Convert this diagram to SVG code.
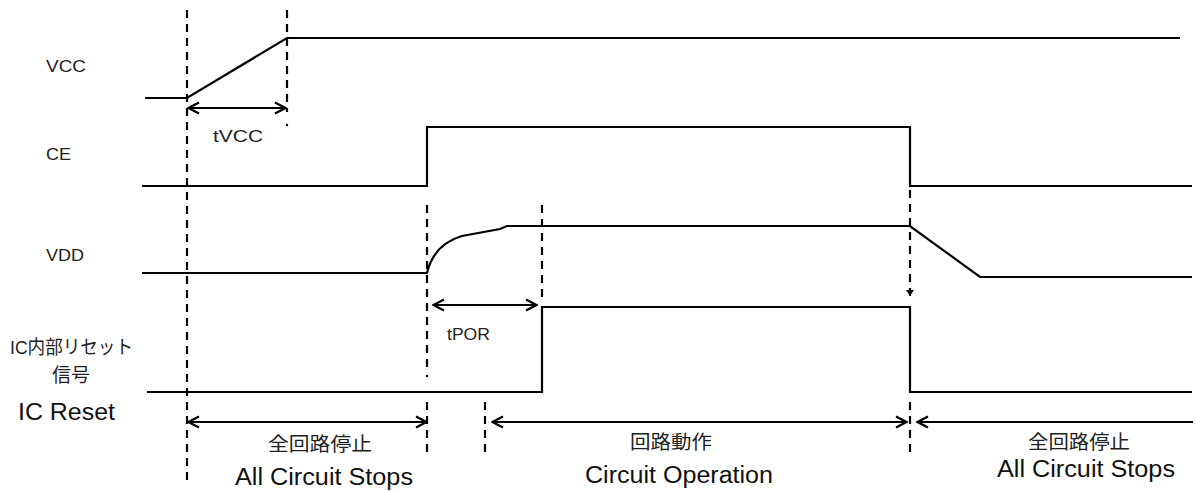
<svg xmlns="http://www.w3.org/2000/svg" width="1195" height="491" viewBox="0 0 1195 491">
<defs>
<marker id="ah" viewBox="0 0 14 14" refX="13" refY="7" markerWidth="14" markerHeight="14" markerUnits="userSpaceOnUse" orient="auto-start-reverse">
<path d="M2,1.5 L12.5,7 L2,12.5" fill="none" stroke="#000" stroke-width="2.2"/>
</marker>
<marker id="ad" viewBox="0 0 10 10" refX="5" refY="9" markerWidth="10" markerHeight="10" markerUnits="userSpaceOnUse" orient="0">
<path d="M1,3 L5,9 L9,3 Z" fill="#000"/>
</marker>
</defs>
<style>
.sig{fill:none;stroke:#000;stroke-width:2.2;stroke-linejoin:miter}
.dash{fill:none;stroke:#000;stroke-width:2.2;stroke-dasharray:8,6}
.dim{fill:none;stroke:#000;stroke-width:2;marker-start:url(#ah);marker-end:url(#ah)}
.dimL{fill:none;stroke:#000;stroke-width:2;marker-start:url(#ah)}
text{}
.lab{font-family:"Liberation Sans",Arial,sans-serif;font-size:17px;fill:#222}
.jp{font-family:"Liberation Sans","Noto Sans CJK JP",sans-serif;font-size:19px;fill:#222}
.en{font-family:"Liberation Sans",Arial,sans-serif;font-size:23px;fill:#111}
</style>
<g id="labels">
<text class="lab" x="46" y="72" textLength="40" lengthAdjust="spacingAndGlyphs">VCC</text>
<text class="lab" x="46" y="160" textLength="25" lengthAdjust="spacingAndGlyphs">CE</text>
<text class="lab" x="46" y="261" textLength="38" lengthAdjust="spacingAndGlyphs">VDD</text>
<text class="jp" x="10" y="354" textLength="123" lengthAdjust="spacingAndGlyphs">IC内部リセット</text>
<text class="jp" x="52" y="382" textLength="38" lengthAdjust="spacingAndGlyphs">信号</text>
<text class="en" x="18" y="420" textLength="97" lengthAdjust="spacingAndGlyphs">IC Reset</text>
</g>
<g id="vcc">
<path class="sig" d="M145,98 L187,98 L287,38 L1180,38"/>
</g>
<g id="ce">
<path class="sig" d="M142,186 L427,186 L427,127 L910,127 L910,186 L1192,186"/>
</g>
<g id="vdd">
<path class="sig" d="M142,273 L427,273 Q434,244 462,236 L500,229 L507,226 L910,226 L980,277 L1192,277"/>
</g>
<g id="reset">
<path class="sig" d="M147,392 L542,392 L542,307 L910,307 L910,392 L1192,392"/>
</g>
<g id="connectors">
<line class="dash" x1="187" y1="10" x2="187" y2="484"/>
<line class="dash" x1="287" y1="10" x2="287" y2="112"/>
<circle cx="287" cy="125" r="1.2" fill="#000"/>
<line class="dash" x1="427" y1="205" x2="427" y2="372"/>
<circle cx="427" cy="376" r="1.2" fill="#000"/>
<line class="dash" x1="427" y1="402" x2="427" y2="452"/>
<line class="dash" x1="542" y1="205" x2="542" y2="300"/>
<line class="dash" x1="485" y1="402" x2="485" y2="452"/>
<line class="dash" x1="910" y1="190" x2="910" y2="296" marker-end="url(#ad)"/>
<line class="dash" x1="910" y1="402" x2="910" y2="452"/>
<line class="dim" x1="188" y1="108" x2="286" y2="108"/>
<line class="dim" x1="433" y1="305" x2="537" y2="305"/>
<line class="dim" x1="188" y1="422" x2="427" y2="422"/>
<line class="dim" x1="492" y1="422" x2="907" y2="422"/>
<line class="dimL" x1="917" y1="422" x2="1193" y2="422"/>
</g>
<g id="annotations">
<text class="lab" x="213" y="142" textLength="50" lengthAdjust="spacingAndGlyphs" font-size="18">tVCC</text>
<text class="lab" x="447" y="340" textLength="43" lengthAdjust="spacingAndGlyphs">tPOR</text>
<text class="jp" x="268" y="451" textLength="104" lengthAdjust="spacingAndGlyphs">全回路停止</text>
<text class="en" x="235" y="485" textLength="178" lengthAdjust="spacingAndGlyphs">All Circuit Stops</text>
<text class="jp" x="630" y="449" textLength="82" lengthAdjust="spacingAndGlyphs">回路動作</text>
<text class="en" x="585" y="483" textLength="188" lengthAdjust="spacingAndGlyphs">Circuit Operation</text>
<text class="jp" x="1028" y="449" textLength="102" lengthAdjust="spacingAndGlyphs">全回路停止</text>
<text class="en" x="997" y="477" textLength="178" lengthAdjust="spacingAndGlyphs">All Circuit Stops</text>
</g>
</svg>
